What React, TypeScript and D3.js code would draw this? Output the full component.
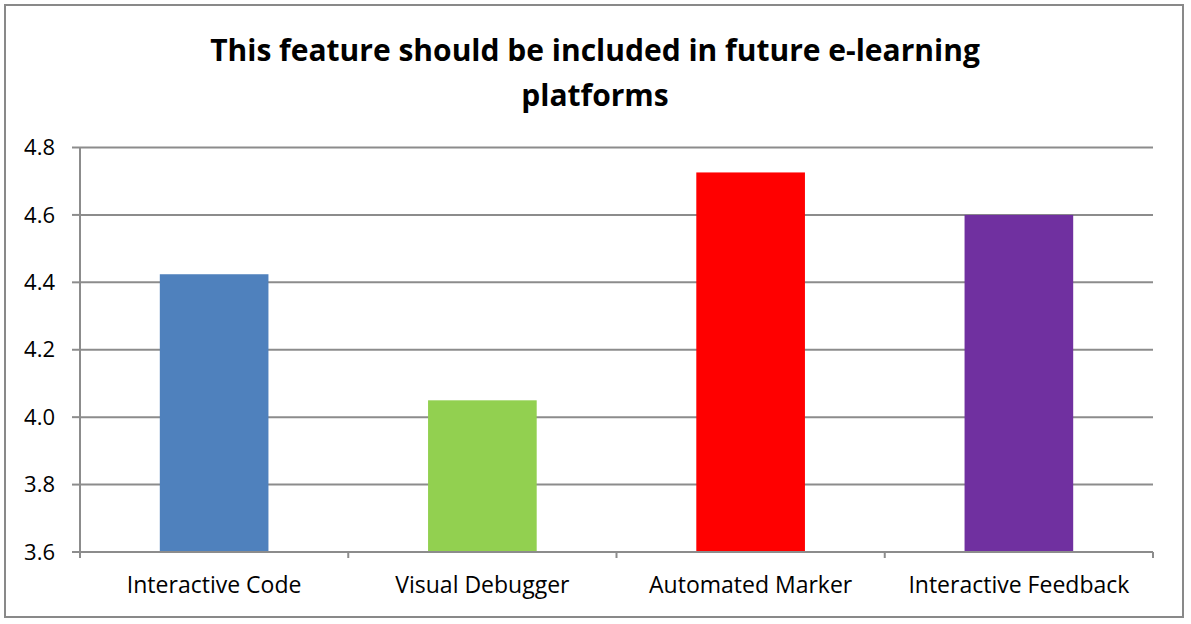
import React from "react";
import * as d3 from "d3";

const categories = ["Interactive Code", "Visual Debugger", "Automated Marker", "Interactive Feedback"];
const values = [4.424, 4.05, 4.726, 4.6];
const colors = ["#4F81BD", "#92D050", "#FF0000", "#7030A0"];
const yTicks = [3.6, 3.8, 4.0, 4.2, 4.4, 4.6, 4.8];
const titleLines = ["This feature should be included in future e-learning", "platforms"];

const W = 1191;
const H = 624;
const plot = { left: 80, right: 1153, top: 147.5, bottom: 552 };

export default function App() {
  const x = d3.scaleBand<string>().domain(categories).range([plot.left, plot.right]).paddingInner(0.595).paddingOuter(0.2975);
  const y = d3.scaleLinear().domain([3.6, 4.8]).range([plot.bottom, plot.top]);
  const band = (plot.right - plot.left) / categories.length;
  const font = "'Open Sans', sans-serif";
  return (
    <svg width={W} height={H} style={{ position: "absolute", left: 0, top: 0 }}>
      <rect x={0} y={0} width={W} height={H} fill="#fff" />
      <rect x={5} y={5} width={1178} height={612} fill="none" stroke="#898989" strokeWidth={2} />
      {titleLines.map((t, i) => (
        <text key={i} x={595} y={61 + i * 45} textAnchor="middle" fontFamily={font} fontWeight="bold" fontSize={30} fill="#000">
          {t}
        </text>
      ))}
      {yTicks.map((t) => (
        <g key={t}>
          {t > 3.6 && <line x1={plot.left} x2={plot.right} y1={y(t)} y2={y(t)} stroke="#8c8c8c" strokeWidth={2} />}
          <line x1={72} x2={plot.left} y1={y(t)} y2={y(t)} stroke="#8c8c8c" strokeWidth={2} />
          <text x={55} y={y(t)} dy="0.35em" textAnchor="end" fontFamily={font} fontSize={22} fill="#000">
            {d3.format(".1f")(t)}
          </text>
        </g>
      ))}
      {values.map((v, i) => (
        <rect key={categories[i]} x={x(categories[i])} y={y(v)} width={x.bandwidth()} height={y(3.6) - y(v)} fill={colors[i]} />
      ))}
      <line x1={plot.left} x2={plot.left} y1={plot.top} y2={plot.bottom + 6} stroke="#8c8c8c" strokeWidth={2} />
      <line x1={plot.left} x2={plot.right} y1={plot.bottom} y2={plot.bottom} stroke="#8c8c8c" strokeWidth={2} />
      {categories.map((c, i) => (
        <g key={c}>
          <line x1={plot.left + band * (i + 1)} x2={plot.left + band * (i + 1)} y1={plot.bottom} y2={plot.bottom + 6} stroke="#8c8c8c" strokeWidth={2} />
          <text x={(x(c) as number) + x.bandwidth() / 2} y={593} textAnchor="middle" fontFamily={font} fontSize={23} fill="#000">
            {c}
          </text>
        </g>
      ))}
    </svg>
  );
}
